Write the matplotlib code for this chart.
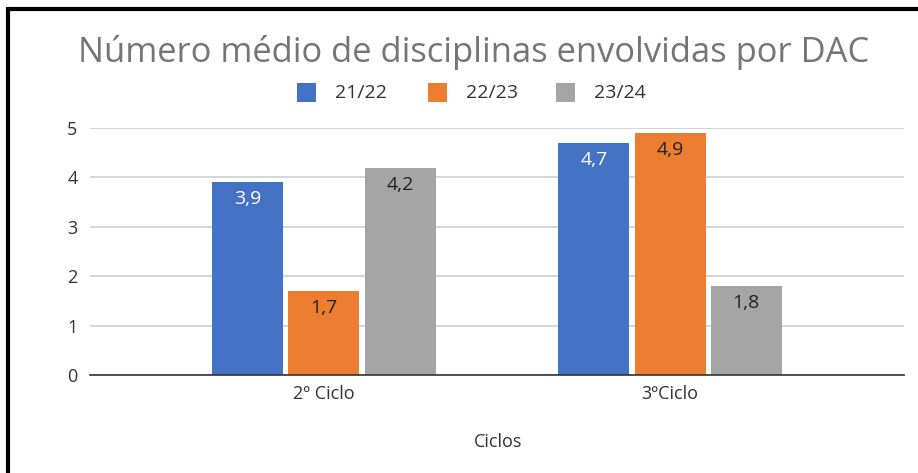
import matplotlib.pyplot as plt
import numpy as np
from matplotlib.patches import Rectangle

plt.rcParams['font.family'] = ['Open Sans', 'DejaVu Sans']

categories = ['2º Ciclo', '3ºCiclo']
series = ['21/22', '22/23', '23/24']
values = {
    '21/22': [3.9, 4.7],
    '22/23': [1.7, 4.9],
    '23/24': [4.2, 1.8],
}
colors = ['#4472c4', '#ed7d31', '#a5a5a5']
label_colors = ['white', '#222222', '#222222']
labels = {
    '21/22': ['3,9', '4,7'],
    '22/23': ['1,7', '4,9'],
    '23/24': ['4,2', '1,8'],
}

fig = plt.figure(figsize=(9.18, 4.73), dpi=100)
W, H = 918, 473
ax = fig.add_axes([90 / W, 1 - 375 / H, (904 - 90) / W, (375 - 128) / H])

x = np.arange(len(categories))
width = 0.205
step = 0.22
for i, s in enumerate(series):
    xs = x + (i - 1) * step
    bars = ax.bar(xs, values[s], width=width, color=colors[i], zorder=3)
    for b, lab in zip(bars, labels[s]):
        ax.annotate(lab, (b.get_x() + b.get_width() / 2, b.get_height()),
                    xytext=(0, -17), textcoords='offset pixels',
                    ha='center', va='center', fontsize=14, color=label_colors[i], zorder=4)

ax.set_xlim(-0.676, 1.676)
ax.set_ylim(0, 5)
ax.set_yticks(range(6))
ax.yaxis.grid(True, color='#d0d0d0', linewidth=1.2, zorder=0)
ax.set_xticks(x)
ax.set_xticklabels(categories)
ax.tick_params(axis='both', length=0, labelsize=13, colors='#333333')
ax.tick_params(axis='y', pad=9)
ax.tick_params(axis='x', pad=7)
for sp in ['top', 'right', 'left']:
    ax.spines[sp].set_visible(False)
ax.spines['bottom'].set_color('#333333')
ax.spines['bottom'].set_linewidth(1.2)
ax.spines['bottom'].set_zorder(5)

fig.text(498 / W, 1 - 442 / H, 'Ciclos', ha='center', va='center', fontsize=13, color='#333333')
fig.text(474 / W, 1 - 52 / H, 'Número médio de disciplinas envolvidas por DAC',
         ha='center', va='center', fontsize=24.8, color='#757575')

# legend
leg_x = [297, 428, 556]
for i, s in enumerate(series):
    fig.patches.append(Rectangle((leg_x[i] / W, 1 - 102 / H), 19 / W, 19 / H,
                                 transform=fig.transFigure, facecolor=colors[i],
                                 edgecolor='none'))
    fig.text((leg_x[i] + 38) / W, 1 - 93 / H, s, ha='left', va='center',
             fontsize=14, color='#333333')

# outer black frame
fig.patches.append(Rectangle((8 / W, -0.05), 1.1, 1 - 9 / H + 0.05,
                             transform=fig.transFigure, facecolor='none',
                             edgecolor='black', linewidth=3))

fig.savefig('out.png', dpi=100)
